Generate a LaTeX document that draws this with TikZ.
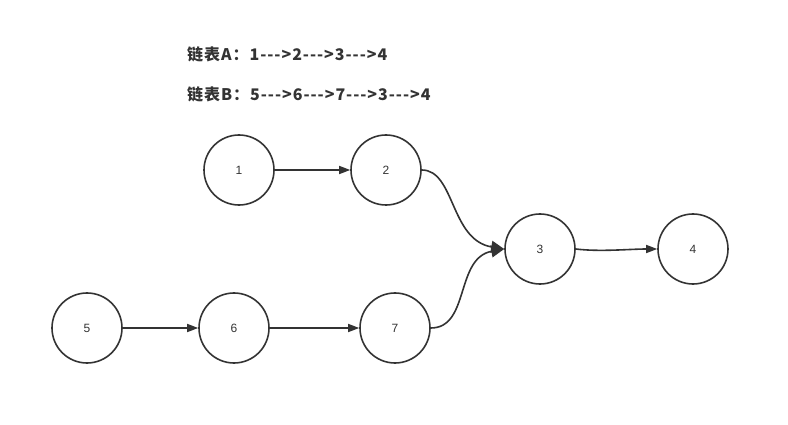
\documentclass[tikz,border=0pt]{standalone}
\usepackage{fontspec}
\setmainfont{Liberation Sans}
\newfontfamily\cjk[LetterSpace=6]{Noto Sans CJK SC}
\usetikzlibrary{arrows.meta}
\definecolor{ink}{HTML}{333333}
\begin{document}
\begin{tikzpicture}[x=1pt,y=-1pt,
  nd/.style={circle,draw=ink,line width=1.6pt,minimum size=70pt,inner sep=0pt,font=\fontsize{12}{14}\selectfont,text=ink},
  ar/.style={draw=ink,line width=1.6pt,-{Triangle[length=11pt,width=8pt]}},
  arb/.style={draw=ink,line width=1.6pt,-{Triangle[length=13pt,width=12pt]}},
  ttl/.style={anchor=west,font=\cjk\bfseries\fontsize{16}{18}\selectfont,text=ink,inner sep=0pt}]
\useasboundingbox (0,0) rectangle (788,425);
\node[ttl] (ta) at (187,54) {链表A：1--->2--->3--->4};
\node[ttl] (tb) at (187,94) {链表B：5--->6--->7--->3--->4};
\node[nd] (n1) at (239,170) {1};
\node[nd] (n2) at (386,170) {2};
\node[nd] (n3) at (540,249) {3};
\node[nd] (n4) at (693,249) {4};
\node[nd] (n5) at (87,328) {5};
\node[nd] (n6) at (234,328) {6};
\node[nd] (n7) at (395,328) {7};
\draw[ar] (n1) -- (n2);
\draw[ar] (n5) -- (n6);
\draw[ar] (n6) -- (n7);
\draw[arb] (n2.east) .. controls (455,170) and (450,240) .. (n3.west);
\draw[arb] (n7.east) .. controls (470,328) and (455,258) .. (n3.west);
\draw[ar] (n3.east) .. controls (600,252) and (630,249) .. (n4.west);
\end{tikzpicture}
\end{document}
